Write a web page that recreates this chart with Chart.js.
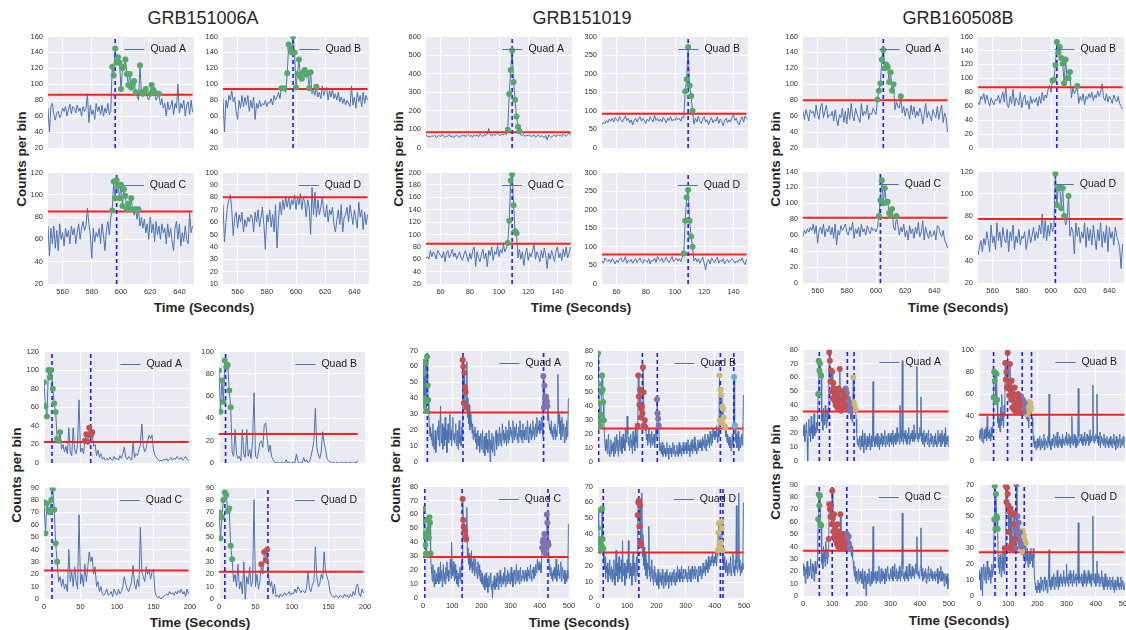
<!DOCTYPE html>
<html>
<head>
<meta charset="utf-8">
<script src="https://cdn.jsdelivr.net/npm/chart.js@4.4.1/dist/chart.umd.min.js"></script>
<style>
  html, body { margin: 0; padding: 0; }
  body { width: 1126px; height: 630px; position: relative; overflow: hidden; background: #fff;
         font-family: "Liberation Sans", Arial, sans-serif; color: #262626; }
  canvas { position: absolute; }
  .lbl { position: absolute; white-space: nowrap; transform: translate(-50%, -50%); }
  .title { font-size: 18px; }
  .axis { font-size: 13.5px; font-weight: bold; }
  .rot { transform: translate(-50%, -50%) rotate(-90deg); }
</style>
</head>
<body>
<div class="lbl title" style="left:203px;top:18px">GRB151006A</div>
<div class="lbl title" style="left:582px;top:18px">GRB151019</div>
<div class="lbl title" style="left:958px;top:18px">GRB160508B</div>

<div class="lbl axis rot" style="left:21px;top:159px">Counts per bin</div>
<div class="lbl axis rot" style="left:398px;top:159px">Counts per bin</div>
<div class="lbl axis rot" style="left:775px;top:159px">Counts per bin</div>
<div class="lbl axis" style="left:204px;top:307px">Time (Seconds)</div>
<div class="lbl axis" style="left:581px;top:307px">Time (Seconds)</div>
<div class="lbl axis" style="left:958px;top:307px">Time (Seconds)</div>

<div class="lbl axis rot" style="left:16px;top:475px">Counts per bin</div>
<div class="lbl axis rot" style="left:395px;top:475px">Counts per bin</div>
<div class="lbl axis rot" style="left:775px;top:472px">Counts per bin</div>
<div class="lbl axis" style="left:200px;top:622px">Time (Seconds)</div>
<div class="lbl axis" style="left:579px;top:622px">Time (Seconds)</div>
<div class="lbl axis" style="left:959px;top:620px">Time (Seconds)</div>

<script>
'use strict';

// x tick labels
const ticksZoomLate = [560, 580, 600, 620, 640];
const ticksZoomEarly = [60, 80, 100, 120, 140];
const ticksWide200 = [0, 50, 100, 150, 200];
const ticksWide500 = [0, 100, 200, 300, 400, 500];

// ---------- zoomed light curves, 1 s bins ----------
// GRB151006A, t = 550..649
const z151006A_A = [
  70,40,72,76,62,55,64,66,58,62, 70,66,72,60,68,75,63,72,70,64,
  74,66,70,60,72,66,70,88,52,74, 62,68,56,76,66,72,62,74,60,70,
  64,76,62,66,122,111,145,127,134,127, 94,120,122,131,113,99,113,96,100,104,
  90,85,80,124,90,88,90,94,84,80, 88,99,93,90,80,84,88,74,82,70,
  76,60,78,68,72,80,62,76,70,100, 64,76,70,80,60,74,78,62,80,65];
const z151006A_B = [
  82,40,80,70,86,80,92,78,84,66, 56,80,70,86,72,84,74,86,66,80,
  70,84,56,76,70,80,72,76,74,80, 72,78,76,82,74,86,80,84,90,82,
  95,92,95,90,114,150,145,140,160,140, 96,113,131,110,107,115,118,112,114,95,
  115,88,93,86,97,84,90,82,98,86, 92,96,80,92,84,94,82,88,80,90,
  78,84,76,82,74,80,76,72,98,74, 84,70,90,78,86,72,90,76,86,80];
const z151006A_C = [
  72,45,70,56,72,52,68,50,74,60, 66,54,70,62,68,56,72,64,70,56,
  66,74,60,70,76,68,72,88,74,64, 43,70,58,66,62,70,56,74,64,50,
  68,76,64,80,86,112,97,113,108,97, 109,90,105,99,87,92,87,97,87,82,
  87,78,87,72,80,70,78,66,74,60, 80,66,74,58,76,64,72,60,74,66,
  70,56,74,62,70,58,50,70,76,60, 74,54,66,58,72,60,56,84,66,72];
const z151006A_D = [
  74,44,60,72,78,82,70,49,64,68, 55,66,60,68,52,62,56,64,60,66,
  64,52,68,60,70,56,64,72,58,38, 66,60,70,56,66,52,74,39,62,76,
  66,78,70,80,72,80,70,78,74,82, 70,80,74,83,70,80,76,64,78,72,
  50,88,66,84,64,78,66,72,80,68, 64,74,60,70,66,72,58,52,62,70,
  58,74,52,64,66,72,60,74,66,58, 70,62,55,76,64,70,54,68,58,66];

// GRB151019, t = 50..149
const z151019_A = [
  72,60,64,58,66,62,70,56,62,68, 60,74,64,58,66,62,72,60,66,56,
  64,70,62,58,68,64,72,60,66,74, 62,68,58,72,64,70,60,76,66,62,
  72,68,74,105,70,64,76,68,72,80, 70,66,74,70,78,72,98,290,420,525,
  355,260,170,115,90,70,66,74,62,70, 64,72,60,66,70,58,64,72,60,66,
  62,56,68,44,70,62,58,66,72,60, 74,66,70,62,76,68,64,72,80,70];
const z151019_B = [
  62,70,66,74,68,78,72,80,70,82, 76,72,84,76,70,78,86,74,80,68,
  76,62,74,80,70,78,84,72,80,74, 66,78,72,84,76,70,88,74,80,72,
  78,70,82,76,68,80,74,84,72,78, 74,82,76,80,72,84,80,153,185,272,
  168,140,100,64,80,70,86,72,66,78, 84,70,76,62,74,82,68,76,72,84,
  66,78,72,60,74,80,68,76,70,82, 90,74,80,68,62,76,84,70,86,78];
const z151019_C = [
  62,64,60,74,64,72,68,60,74,70, 66,62,72,56,70,74,62,68,76,64,
  70,60,66,72,62,58,68,74,64,56, 70,60,74,80,48,72,62,56,68,76,
  60,70,48,74,66,80,58,72,68,82, 64,76,70,84,72,78,86,122,187,197,
  147,105,102,62,76,60,72,50,68,78, 58,70,64,74,84,60,72,66,56,74,
  62,78,66,45,70,60,74,66,56,72, 80,62,70,58,76,64,80,62,70,80];
const z151019_D = [
  62,56,70,64,60,66,58,68,62,54, 64,58,66,70,60,62,74,56,64,60,
  66,56,62,68,58,64,70,60,56,66, 62,58,68,54,64,62,70,58,74,66,
  62,70,58,64,72,62,58,66,74,60, 64,70,62,68,60,72,82,170,233,253,
  170,128,100,62,70,60,68,56,64,72, 56,38,60,66,54,70,64,58,66,72,
  56,64,60,68,54,62,66,58,62,68, 64,56,62,58,66,62,70,58,52,66];

// GRB160508B, t = 550..649
const z160508B_A = [
  66,56,68,62,54,68,64,66,58,74, 62,56,72,76,58,66,74,58,62,60,
  66,54,68,56,48,62,58,70,52,66, 50,70,56,76,60,54,70,62,58,52,
  76,60,66,62,74,56,64,62,70,66, 62,81,92,101,131,143,120,125,122,103,
  115,92,100,68,78,72,70,85,64,72, 60,70,66,56,74,62,72,58,66,60,
  70,64,50,62,76,58,66,60,54,68, 62,58,72,56,66,74,52,64,58,40];
const z160508B_B = [
  66,62,74,70,78,64,76,68,60,72, 66,62,70,68,76,64,72,80,66,88,
  62,58,74,64,84,60,72,68,62,80, 58,70,76,62,68,56,74,64,70,66,
  72,60,74,64,80,68,76,72,84,90, 80,97,98,119,152,137,145,129,121,93,
  127,100,100,109,72,86,78,82,89,64, 74,68,78,62,74,70,78,72,80,68,
  76,72,82,74,80,92,72,68,78,66, 74,70,64,76,70,66,74,64,60,56];
const z160508B_C = [
  58,66,62,68,64,70,66,74,62,72, 50,66,70,62,74,58,68,64,72,60,
  70,56,74,48,66,60,72,66,70,74, 64,60,70,66,76,56,68,62,70,58,
  74,64,68,60,72,66,62,70,66,68, 64,70,84,104,129,100,119,101,102,88,
  85,93,70,66,84,72,60,70,64,74, 58,66,54,72,62,68,56,70,62,76,
  58,64,78,54,70,62,56,66,58,60, 66,54,72,70,62,58,66,54,50,44];
const z160508B_D = [
  45,52,58,48,60,54,66,58,48,72, 56,62,50,74,58,66,52,70,60,56,
  68,48,66,58,72,50,62,56,68,54, 62,60,66,50,58,68,56,62,70,58,
  66,60,72,64,82,60,76,58,72,62, 74,66,70,118,90,105,106,87,105,80,
  72,76,98,62,70,66,46,74,62,70, 56,66,60,74,52,70,58,68,54,72,
  60,50,68,58,74,52,66,56,72,48, 70,60,66,54,70,62,58,52,33,55];

// ---------- wide light curves, 2 s bins from t = 0 ----------
// GRB151006A
const w151006A_A = [
  87,61,50,100,92,100,80,64,55,26, 24,33,15,20,12,18,10,38,12,8,
  38,14,10,20,68,12,16,10,24,31, 23,38,30,33,18,20,8,14,6,10,
  4,6,3,5,3,6,4,3,7,4, 5,3,8,5,10,17,6,4,7,5,
  3,22,6,10,8,14,20,42,18,12, 16,24,30,26,30,14,8,6,4,2,
  3,2,4,3,5,2,4,6,3,5, 4,7,5,4,6,3,5,7,4,3];
const w151006A_B = [
  83,46,74,55,92,86,88,65,50,10, 6,30,8,4,6,2,30,8,5,30,
  6,12,4,20,63,6,4,10,18,20, 14,34,36,22,10,16,6,3,1,0,
  1,0,0,1,0,0,3,0,1,0, 0,1,0,8,2,0,1,0,5,1,
  3,0,1,6,12,20,49,14,8,4, 10,28,18,12,4,2,1,0,1,0,
  0,1,0,0,1,0,0,1,0,0, 1,0,0,1,0,2];
const w151006A_C = [
  78,53,77,72,70,80,89,72,45,30, 14,18,10,16,8,12,6,40,14,22,
  10,26,14,8,68,12,20,10,28,14, 26,38,30,34,20,26,10,14,6,10,
  4,3,5,8,3,4,6,2,8,5, 3,8,4,6,10,18,12,8,6,10,
  14,27,12,8,16,10,58,22,18,14, 26,20,24,16,22,24,6,2,1,2,
  0,1,2,3,4,3,6,4,5,3, 6,4,7,5,8,4,6,2,8,4];
const w151006A_D = [
  70,49,66,80,86,84,71,73,43,32, 14,20,10,28,8,14,4,30,0,18,
  12,26,10,14,80,10,20,8,14,28, 20,38,31,40,18,10,14,4,12,2,
  3,1,4,2,3,5,3,4,6,3, 5,4,8,5,10,8,5,7,6,5,
  9,22,8,6,12,14,42,18,10,12, 20,16,38,22,18,14,6,3,2,1,
  3,2,1,3,2,1,4,2,3,1, 4,2,6,3,10,12,4,2,8,5];

// GRB151019
const w151019_A = [
  35,63,56,40,62,38,32,66,48,39,30,20,16,22,14,18,10,24,12,8,14,20,6,12,18,
  22,14,26,10,20,35,16,12,24,8,18,22,10,28,14,20,6,16,24,12,18,30,14,20,10,
  22,28,14,18,12,16,24,10,14,20,8,18,26,12,16,10,22,14,64,60,37,56,47,44,34,
  63,28,40,24,36,20,30,22,26,18,24,14,20,16,22,12,18,8,14,20,10,16,6,12,18,
  8,14,20,6,12,16,4,10,18,8,14,6,12,20,10,0,14,8,18,6,12,16,4,10,14,
  20,8,14,18,10,16,22,12,18,10,16,24,14,20,12,18,14,22,10,16,20,12,26,14,18,
  22,16,20,12,26,18,14,22,16,20,24,14,18,12,22,16,26,18,14,20,12,24,16,20,14,
  18,22,14,20,26,16,12,22,18,24,14,20,16,26,18,22,14,20,24,16,28,18,22,20,26,
  18,24,20,28,22,16,54,34,48,40,36,41,38,35,26,30,24,20,22,18,26,16,20,14,22,
  18,24,14,20,16,22,55,24,30,18,26,14,22,28,16,20,24,12,18,22,14,26,16,20,40];
const w151019_B = [
  78,56,42,30,26,34,50,62,52,43,30,20,12,8,16,10,6,14,20,8,4,10,16,6,12,
  8,14,4,10,18,6,12,20,8,16,4,12,22,8,14,18,6,12,20,10,16,8,24,14,18,
  33,20,12,18,8,14,20,10,16,6,22,12,18,8,24,14,20,10,26,62,47,41,52,32,38,
  40,35,68,50,26,30,25,22,16,20,12,18,24,14,20,10,16,22,12,18,14,20,10,16,24,
  18,45,35,31,26,14,8,12,6,10,14,4,8,12,6,10,4,8,14,6,10,2,8,12,6,
  10,4,8,14,6,10,12,4,8,6,12,8,4,10,14,6,8,12,4,10,8,14,6,10,12,
  8,14,6,10,16,8,12,4,10,14,8,16,6,12,10,18,8,14,10,6,12,16,8,14,10,
  16,10,14,8,18,12,16,10,20,14,8,16,12,20,14,18,10,22,16,12,20,14,24,18,22,
  16,22,18,26,20,14,24,18,62,30,52,48,28,40,38,32,26,24,25,18,22,14,20,16,12,
  18,10,16,8,14,20,12,18,61,26,26,14,20,10,16,22,8,12,18,10,14,20,12,16,48];
const w151019_C = [
  64,55,46,44,38,32,31,45,56,49,43,58,54,32,22,18,12,24,16,8,20,14,10,18,12,
  16,22,10,18,12,26,14,20,8,16,24,12,18,10,22,14,26,16,20,12,18,24,28,14,40,
  22,16,26,18,12,24,14,20,10,16,8,18,14,22,12,18,26,20,71,56,51,49,48,44,42,
  65,30,36,24,32,20,28,22,34,18,26,20,30,16,24,28,18,22,14,26,20,16,24,12,20,
  14,10,18,8,12,16,6,12,18,8,14,4,10,16,8,12,18,6,10,0,12,8,16,6,10,
  14,8,18,12,6,16,10,20,12,8,16,14,10,18,12,22,8,14,16,10,20,12,18,14,10,
  16,22,12,18,8,14,20,16,10,18,24,12,16,20,14,10,18,22,12,16,14,20,18,12,16,
  20,14,18,12,22,16,20,14,18,24,16,12,20,18,22,14,20,16,24,18,22,28,20,24,26,
  20,24,18,26,36,40,42,34,46,38,32,36,60,54,40,38,24,20,16,22,14,18,12,20,16,
  22,14,18,28,12,20,16,24,18,14,20,26,12,18,22,16,14,20,10,18,16,12,20,14,53];
const w151019_D = [
  44,55,35,32,37,30,33,56,37,31,24,18,26,12,20,16,22,10,18,14,24,12,16,20,10,
  18,12,24,16,8,20,30,14,22,10,18,26,12,20,16,24,10,36,18,14,22,8,16,20,12,
  24,16,36,18,12,22,14,20,8,18,28,14,22,16,10,20,26,14,52,60,61,45,58,35,33,
  66,26,40,20,32,18,28,14,24,12,22,18,45,14,20,10,16,24,12,18,8,14,20,10,16,
  12,8,14,18,6,12,16,10,14,8,18,12,6,14,10,16,8,12,18,10,14,6,12,16,10,
  14,8,16,12,10,18,12,8,14,16,10,20,14,12,18,10,16,12,20,14,10,18,16,12,14,
  18,12,16,10,14,20,12,16,18,10,14,20,16,12,18,14,20,12,16,18,14,10,20,16,14,
  20,16,12,18,14,22,16,20,18,14,24,18,22,16,26,20,18,24,20,26,22,28,24,20,26,
  22,28,24,20,26,30,41,47,33,32,35,48,44,30,24,20,26,18,22,16,24,20,14,18,22,
  16,20,26,14,18,22,28,16,20,14,24,18,58,22,16,20,66,18,24,14,20,16,22,18,60];

// GRB160508B
const w160508B_A = [
  24,18,26,14,22,20,28,16,0,22,30,18,24,14,32,20,26,16,22,34,18,24,20,28,22,
  30,48,72,65,70,62,61,28,34,22,38,30,26,40,32,24,36,28,38,30,78,72,57,65,50,
  64,45,56,52,43,48,40,50,42,38,45,52,40,66,43,36,44,50,42,38,47,46,40,52,44,
  49,40,45,38,42,36,38,30,40,28,34,60,42,40,38,37,30,20,12,16,10,14,18,8,14,
  18,10,22,14,6,20,12,16,8,14,18,10,16,12,20,8,14,18,10,22,57,14,16,10,18,
  12,16,20,10,14,18,8,16,12,20,14,10,18,12,16,22,10,14,18,12,16,20,14,10,18,
  14,20,12,16,22,10,18,14,20,12,16,24,14,18,20,12,40,16,22,14,72,18,12,20,16,
  22,14,18,12,20,16,24,12,18,14,20,16,22,14,18,26,14,20,16,22,68,18,14,20,16,
  24,18,46,14,20,12,16,22,10,18,14,20,16,12,18,22,10,16,14,20,12,18,16,10,14,
  18,12,20,14,10,16,22,12,18,14,20,10,16,22,12,18,14,20,10,24,16,12,18,14,10];
const w160508B_B = [
  24,20,28,22,18,30,26,16,22,28,20,24,30,18,40,22,26,20,28,24,18,30,22,26,32,
  57,80,72,79,53,78,55,34,42,30,38,26,48,32,60,36,44,30,50,40,88,73,80,66,97,
  65,70,59,87,64,55,72,48,60,58,46,66,50,44,59,52,48,60,45,55,50,43,58,47,52,
  55,48,44,52,40,47,38,42,36,44,30,53,50,46,48,40,38,30,22,16,12,18,14,10,16,
  20,12,18,14,22,10,16,20,12,18,14,24,10,16,20,14,18,12,22,16,60,14,18,10,16,
  20,14,18,24,12,16,22,14,20,26,12,18,16,22,14,20,18,12,24,16,20,14,18,22,16,
  26,14,20,16,24,18,12,22,16,40,20,14,18,24,16,22,12,20,18,14,65,22,16,20,18,
  24,16,20,14,22,18,26,14,20,16,24,18,22,14,20,28,16,22,18,24,68,20,16,22,18,
  24,20,60,16,22,14,20,26,12,18,22,16,20,14,24,18,12,20,16,22,14,18,12,20,16,
  22,14,18,12,20,16,24,14,18,10,22,16,12,20,14,18,24,12,16,20,14,18,22,16,12];
const w160508B_C = [
  26,20,16,24,10,22,18,28,14,20,24,16,22,30,18,14,26,20,24,12,22,28,18,20,24,
  30,62,82,73,81,58,57,26,34,22,40,28,36,24,44,30,38,26,32,46,74,70,64,73,58,
  85,63,52,66,48,55,45,50,42,58,40,52,46,38,66,48,43,50,40,45,38,42,50,40,48,
  50,46,43,48,40,38,44,36,32,40,30,28,22,16,24,12,20,14,10,18,22,12,16,20,14,
  18,10,22,14,6,20,12,16,0,14,18,10,16,22,12,8,14,20,10,16,56,12,18,14,20,
  10,16,20,12,18,24,14,10,18,22,12,16,20,14,18,10,22,16,12,20,24,14,18,12,16,
  22,14,18,24,12,20,16,26,14,18,22,12,16,20,14,24,18,12,20,16,67,22,14,18,12,
  20,16,24,14,18,12,22,26,16,20,14,18,24,16,22,18,14,20,26,18,48,22,16,20,14,
  18,24,55,16,22,12,18,14,20,16,22,10,18,14,20,24,12,18,16,22,14,20,12,16,18,
  14,20,12,18,16,22,10,18,14,20,12,24,16,12,20,18,14,8,18,12,16,10,18,6,14];
const w160508B_D = [
  16,10,14,4,18,12,0,16,20,10,14,18,8,12,22,14,10,18,12,16,8,14,20,12,16,
  22,48,69,42,64,50,49,42,18,24,14,26,20,12,22,28,16,24,14,30,20,69,59,68,64,
  57,40,53,30,55,32,51,29,33,45,52,36,41,30,70,43,50,38,46,35,40,33,31,26,28,
  41,24,38,35,20,33,26,22,30,18,24,28,20,26,30,22,26,18,30,24,12,8,4,6,2,
  6,10,4,8,2,6,12,4,8,10,3,6,12,8,4,10,6,2,8,12,29,6,10,4,8,
  12,6,10,14,4,8,12,6,10,16,8,4,12,6,10,14,8,12,6,10,16,8,12,6,10,
  20,8,12,6,14,10,16,8,12,14,6,10,16,8,12,10,14,6,12,10,46,8,14,10,12,
  8,14,10,6,12,16,8,10,14,6,12,8,16,10,14,8,12,6,14,10,50,12,8,10,14,
  6,12,22,8,10,14,6,12,8,10,16,6,12,8,4,10,14,6,8,12,4,10,6,8,12,
  4,8,10,6,12,4,8,2,10,6,4,8,12,6,10,4,8,6,12,4,8,10,6,4,8];

// background thresholds (red lines), quads A..D
const thrZ151006A = [87, 94, 85, 80];
const thrZ151019 = [85, 92, 85, 79.5];
const thrZ160508B = [80, 87, 82, 77.5];
const thrW151006A = [22.7, 26, 23, 22];
const thrW151019 = [31, 24, 29.5, 28.5];
const thrW160508B = [35.5, 41.5, 36.5, 27.5];

// trigger / pulse times (dashed lines)
const vlZ151006A = [[596], [598], [597], []];
const vlZ151019 = [[109], [109], [109], [109]];
const vlZ160508B = [[605], [604], [603], [603]];
const vlW151006A = [[11, 64], [9], [11], [8, 67]];
const vlW151019 = [[15, 137, 413], [2, 152, 203, 419, 465], [6, 134, 428], [18, 140, 419, 428]];
const vlW160508B = [[56, 91, 152, 175], [50, 98, 148, 180], [56, 100, 150], [55, 95, 126, 155]];

// detected pulse windows [from, to, colour key]
const winZ151006A = [[[594, 628, 'g']], [[589, 616, 'g']], [[594, 613, 'g']], []];
const winZ151019 = [[[105, 115, 'g']], [[106, 113, 'g']], [[106, 113, 'g']], [[105, 113, 'g']]];
const winZ160508B = [[[600, 618, 'g']], [[600, 619, 'g']], [[601, 615, 'g']], [[602, 613, 'g']]];
const winW151006A = [[[0, 24, 'g'], [55, 68, 'r']], [[0, 18, 'g']], [[0, 20, 'g']], [[0, 20, 'g'], [56, 68, 'r']]];
const winW151019 = [
  [[0, 19, 'g'], [134, 149, 'r'], [410, 440, 'p']],
  [[0, 20, 'g'], [136, 163, 'r'], [200, 210, 'p'], [414, 440, 'y'], [464, 472, 'c']],
  [[0, 26, 'g'], [134, 149, 'r'], [404, 432, 'p']],
  [[0, 20, 'g'], [134, 149, 'r'], [410, 430, 'y']]];
const winW160508B = [
  [[50, 63, 'g'], [88, 145, 'r'], [146, 163, 'p'], [164, 182, 'y']],
  [[50, 63, 'g'], [88, 143, 'r'], [144, 159, 'p'], [160, 180, 'y']],
  [[50, 63, 'g'], [88, 143, 'r'], [144, 160, 'p']],
  [[50, 65, 'g'], [88, 123, 'r'], [124, 147, 'p'], [148, 160, 'y']]];

// y axes [min, max, step]
const yZ151006A = [[20, 160, 20], [20, 160, 20], [20, 120, 20], [10, 100, 10]];
const yZ151019 = [[0, 600, 100], [0, 300, 50], [20, 200, 20], [0, 300, 50]];
const yZ160508B = [[20, 160, 20], [0, 160, 20], [0, 140, 20], [20, 120, 20]];
const yW151006A = [[0, 120, 20], [0, 100, 20], [0, 90, 10], [0, 90, 10]];
const yW151019 = [[0, 70, 10], [0, 80, 10], [0, 80, 10], [0, 70, 10]];
const yW160508B = [[0, 80, 10], [0, 100, 20], [0, 90, 10], [0, 70, 10]];

const palette = {g: '#55A868', r: '#C44E52', p: '#8172B2', y: '#CCB974', c: '#64B5CD'};
const quadNames = ['Quad A', 'Quad B', 'Quad C', 'Quad D'];

// plot area geometry
const PW = 146, PH = 113, YW = 30, PADT = 8, PADR = 12, XH = 16;
const FONT = '"Liberation Sans", Arial, sans-serif';

Chart.defaults.font.family = FONT;

const bgPlugin = {
  id: 'bg',
  beforeDraw(chart) {
    const {ctx, chartArea: a} = chart;
    ctx.save();
    ctx.fillStyle = '#EAEAF2';
    ctx.fillRect(a.left, a.top, a.width, a.height);
    ctx.restore();
  }
};

const quadLegend = {
  id: 'quad',
  afterDatasetsDraw(chart, args, opts) {
    const {ctx, chartArea: a} = chart;
    ctx.save();
    ctx.font = '10.5px ' + FONT;
    ctx.fillStyle = '#1a1a1a';
    ctx.textBaseline = 'middle';
    ctx.textAlign = 'right';
    const y = a.top + 13, xr = a.right - 8;
    const w = ctx.measureText(opts.label).width;
    ctx.fillText(opts.label, xr, y);
    ctx.strokeStyle = '#4C72B0';
    ctx.lineWidth = 1;
    ctx.beginPath();
    ctx.moveTo(xr - w - 26, y);
    ctx.lineTo(xr - w - 6, y);
    ctx.stroke();
    ctx.restore();
  }
};
Chart.register(bgPlugin, quadLegend);

let addPanel = (left, top, cfg) => {
  const cv = document.createElement('canvas');
  cv.width = YW + PW + PADR;
  cv.height = PADT + PH + XH;
  cv.style.left = (left - YW) + 'px';
  cv.style.top = (top - PADT) + 'px';
  document.body.appendChild(cv);

  const pts = cfg.counts.map((v, i) => ({x: cfg.start + i * cfg.step, y: v}));
  const [yMin, yMax, yStep] = cfg.yr;
  const datasets = [];

  // drawn top-most first
  cfg.wins.forEach(([from, to, c]) => {
    datasets.push({
      data: pts.filter(p => p.x >= from && p.x <= to && p.y > cfg.thr),
      showLine: false, pointRadius: 3, pointBackgroundColor: palette[c],
      pointBorderWidth: 0, clip: 0
    });
  });
  cfg.vlines.forEach(x => {
    datasets.push({
      data: [{x: x, y: yMin}, {x: x, y: yMax}],
      borderColor: '#1a1aff', borderWidth: 1.6, borderDash: [4, 3], pointRadius: 0, clip: 0
    });
  });
  datasets.push({
    data: [{x: pts[0].x, y: cfg.thr}, {x: pts[pts.length - 1].x, y: cfg.thr}],
    borderColor: '#ff2020', borderWidth: 2, pointRadius: 0, clip: 0
  });
  datasets.push({data: pts, borderColor: '#4C72B0', borderWidth: 1, pointRadius: 0, clip: 0});

  const grid = {color: '#ffffff', lineWidth: 1, drawTicks: false};
  new Chart(cv, {
    type: 'line',
    data: {datasets},
    options: {
      responsive: false,
      animation: false,
      devicePixelRatio: 1,
      events: [],
      layout: {padding: {top: PADT, right: PADR, left: 0, bottom: 0}},
      elements: {line: {tension: 0}},
      plugins: {legend: {display: false}, tooltip: {enabled: false}, quad: {label: cfg.label}},
      scales: {
        x: {
          type: 'linear', min: cfg.xr[0], max: cfg.xr[1],
          afterBuildTicks: s => { s.ticks = cfg.xticks.map(v => ({value: v})); },
          afterFit: s => { s.height = XH; },
          grid: grid,
          border: {display: false},
          ticks: {display: cfg.showX, autoSkip: false, maxRotation: 0, padding: 3,
                  color: '#333', font: {size: 7.5}}
        },
        y: {
          min: yMin, max: yMax,
          afterFit: s => { s.width = YW; },
          grid: grid,
          border: {display: false},
          ticks: {stepSize: yStep, autoSkip: false, padding: 5, color: '#333', font: {size: 7.5}}
        }
      }
    }
  });
};

let addGroup = (geo, counts, thr, vlines, wins, yr, xr, xticks, start, step) => {
  counts.forEach((c, i) => {
    addPanel(geo.cols[i % 2], geo.rows[Math.floor(i / 2)], {
      counts: c, thr: thr[i], vlines: vlines[i], wins: wins[i], yr: yr[i],
      xr: xr, xticks: xticks, start: start, step: step,
      label: quadNames[i], showX: i >= 2
    });
  });
};

addGroup({cols: [48, 223], rows: [35, 171]},
  [z151006A_A, z151006A_B, z151006A_C, z151006A_D], thrZ151006A, vlZ151006A, winZ151006A,
  yZ151006A, [550, 650], ticksZoomLate, 550, 1);
addGroup({cols: [426, 602], rows: [35, 171]},
  [z151019_A, z151019_B, z151019_C, z151019_D], thrZ151019, vlZ151019, winZ151019,
  yZ151019, [50, 150], ticksZoomEarly, 50, 1);
addGroup({cols: [803, 978], rows: [35, 170]},
  [z160508B_A, z160508B_B, z160508B_C, z160508B_D], thrZ160508B, vlZ160508B, winZ160508B,
  yZ160508B, [550, 650], ticksZoomLate, 550, 1);

addGroup({cols: [44, 219], rows: [350, 486]},
  [w151006A_A, w151006A_B, w151006A_C, w151006A_D], thrW151006A, vlW151006A, winW151006A,
  yW151006A, [0, 200], ticksWide200, 0, 2);
addGroup({cols: [423, 598], rows: [349, 485]},
  [w151019_A, w151019_B, w151019_C, w151019_D], thrW151019, vlW151019, winW151019,
  yW151019, [0, 500], ticksWide500, 0, 2);
addGroup({cols: [803, 979], rows: [348, 483]},
  [w160508B_A, w160508B_B, w160508B_C, w160508B_D], thrW160508B, vlW160508B, winW160508B,
  yW160508B, [0, 500], ticksWide500, 0, 2);
</script>
</body>
</html>
